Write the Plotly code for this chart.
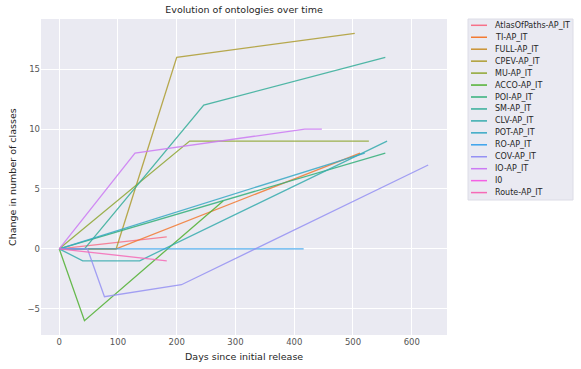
import math
import plotly.graph_objects as go

# Ontology names (legend order)
names = ['AtlasOfPaths-AP_IT', 'TI-AP_IT', 'FULL-AP_IT', 'CPEV-AP_IT', 'MU-AP_IT',
         'ACCO-AP_IT', 'POI-AP_IT', 'SM-AP_IT', 'CLV-AP_IT', 'POT-AP_IT',
         'RO-AP_IT', 'COV-AP_IT', 'IO-AP_IT', 'I0', 'Route-AP_IT']

# Days since initial release / change in number of classes, per ontology
atlas_days = [0, 183]
atlas_delta = [0, 1]
ti_days = [0, 97, 512]
ti_delta = [0, 0, 8]
full_days = [0, 97]
full_delta = [0, 0]
cpev_days = [0, 97, 200, 503]
cpev_delta = [0, 0, 16, 18]
mu_days = [0, 222, 527]
mu_delta = [0, 9, 9]
acco_days = [0, 43, 279]
acco_delta = [0, -6, 4]
poi_days = [0, 555]
poi_delta = [0, 8]
sm_days = [0, 43, 246, 555]
sm_delta = [0, 0, 12, 16]
clv_days = [0, 40, 137, 558]
clv_delta = [0, -1, -1, 9]
pot_days = [0, 520]
pot_delta = [0, 8]
ro_days = [0, 416]
ro_delta = [0, 0]
cov_days = [0, 48, 77, 208, 628]
cov_delta = [0, 0, -4, -3, 7]
io_days = [0, 129, 418, 447]
io_delta = [0, 8, 10, 10]
i0_days = [0]
i0_delta = [0]
route_days = [0, 183]
route_delta = [0, -1]

series = [(atlas_days, atlas_delta), (ti_days, ti_delta), (full_days, full_delta),
          (cpev_days, cpev_delta), (mu_days, mu_delta), (acco_days, acco_delta),
          (poi_days, poi_delta), (sm_days, sm_delta), (clv_days, clv_delta),
          (pot_days, pot_delta), (ro_days, ro_delta), (cov_days, cov_delta),
          (io_days, io_delta), (i0_days, i0_delta), (route_days, route_delta)]


# seaborn-style husl palette
M = [[3.2406, -1.5372, -0.4986], [-0.9689, 1.8758, 0.0415], [0.0557, -0.2040, 1.0570]]


def max_chroma(L, H):
    hrad = math.radians(H)
    sinH, cosH = math.sin(hrad), math.cos(hrad)
    sub1 = (L + 16) ** 3 / 1560896.0
    sub2 = sub1 if sub1 > 0.008856 else L / 903.3
    result = float('inf')
    for m1, m2, m3 in M:
        top = (0.99915 * m1 + 1.05122 * m2 + 1.14460 * m3) * sub2
        rbottom = 0.86330 * m3 - 0.17266 * m2
        lbottom = 0.12949 * m3 - 0.38848 * m1
        bottom = (rbottom * sinH + lbottom * cosH) * sub2
        for t in (0.0, 1.0):
            C = L * (top - 1.05122 * t) / (bottom + 0.17266 * sinH * t)
            if 0 < C < result:
                result = C
    return result


def husl_to_hex(H, S, L):
    C = max_chroma(L, H) / 100.0 * S
    U = C * math.cos(math.radians(H))
    V = C * math.sin(math.radians(H))
    t = (L + 16.0) / 116.0
    varY = t ** 3 if t ** 3 > 0.008856 else (116 * t - 16) / 903.3
    varU = U / (13.0 * L) + 0.19784
    varV = V / (13.0 * L) + 0.46834
    Y = varY
    X = -(9.0 * Y * varU) / ((varU - 4.0) * varV - varU * varV)
    Z = (9.0 * Y - 15.0 * varV * Y - varV * X) / (3.0 * varV)
    out = []
    for row in M:
        c = row[0] * X + row[1] * Y + row[2] * Z
        c = 12.92 * c if c <= 0.0031308 else 1.055 * c ** (1 / 2.4) - 0.055
        out.append(int(round(min(max(c, 0), 1) * 255)))
    return '#%02x%02x%02x' % tuple(out)


n = len(names)
colors = [husl_to_hex(((i / n + 0.01) % 1) * 359, 0.9 * 99, 0.65 * 99) for i in range(n)]

fig = go.Figure()
for name, (d, v), c in zip(names, series, colors):
    fig.add_trace(go.Scatter(x=d, y=v, mode='lines', name=name, opacity=0.85,
                             line=dict(color=c, width=1.3)))

# plot area in pixels: x 41..447, y 19..335
def px(x):
    return (x - 41) / 406.0


def py(y):
    return (335 - y) / 316.0


# hand-drawn legend box (compact spacing like matplotlib)
shapes = [dict(type='rect', xref='paper', yref='paper', x0=px(468), x1=px(573),
               y0=py(200), y1=py(19), fillcolor='#eaeaf2', line=dict(color='#dcdce6', width=1),
               layer='above')]
annotations = []
for i, (name, c) in enumerate(zip(names, colors)):
    yy = 25.3 + i * 11.95
    shapes.append(dict(type='line', xref='paper', yref='paper', x0=px(471), x1=px(487),
                       y0=py(yy), y1=py(yy), line=dict(color=c, width=1.5), layer='above'))
    annotations.append(dict(text=name, xref='paper', yref='paper', x=px(493), y=py(yy),
                            xanchor='left', yanchor='middle', showarrow=False,
                            font=dict(size=8, color='#262626')))

annotations.append(dict(text='Days since initial release', xref='paper', yref='paper',
                        x=0.5, y=py(356), xanchor='center', yanchor='middle', showarrow=False,
                        font=dict(size=9.5, color='#262626')))
annotations.append(dict(text='Change in number of classes', xref='paper', yref='paper',
                        x=px(12), y=0.5, xanchor='center', yanchor='middle', showarrow=False,
                        textangle=-90, font=dict(size=9.5, color='#262626')))

fig.update_layout(
    width=581, height=369,
    margin=dict(l=41, r=134, t=19, b=34),
    paper_bgcolor='white', plot_bgcolor='#eaeaf2',
    font=dict(family='DejaVu Sans', size=9, color='#262626'),
    showlegend=False,
    title=dict(text='Evolution of ontologies over time', x=244 / 581, xanchor='center',
               y=1 - 10 / 369, yanchor='middle', font=dict(size=9.5)),
    xaxis=dict(range=[-31, 660], tickvals=[0, 100, 200, 300, 400, 500, 600],
               gridcolor='white', gridwidth=1, zeroline=False, showline=False,
               tickfont=dict(color='#555555', size=8.5)),
    yaxis=dict(range=[-7.2, 19.2], tickvals=[-5, 0, 5, 10, 15],
               gridcolor='white', gridwidth=1, zeroline=False, showline=False,
               tickfont=dict(color='#555555', size=8.5)),
    shapes=shapes,
    annotations=annotations,
)

# drop the default page margin so the figure sits at the window's top-left corner
fig.write_html("out.html", config={'displayModeBar': False},
               post_script="document.body.style.margin='0';")
